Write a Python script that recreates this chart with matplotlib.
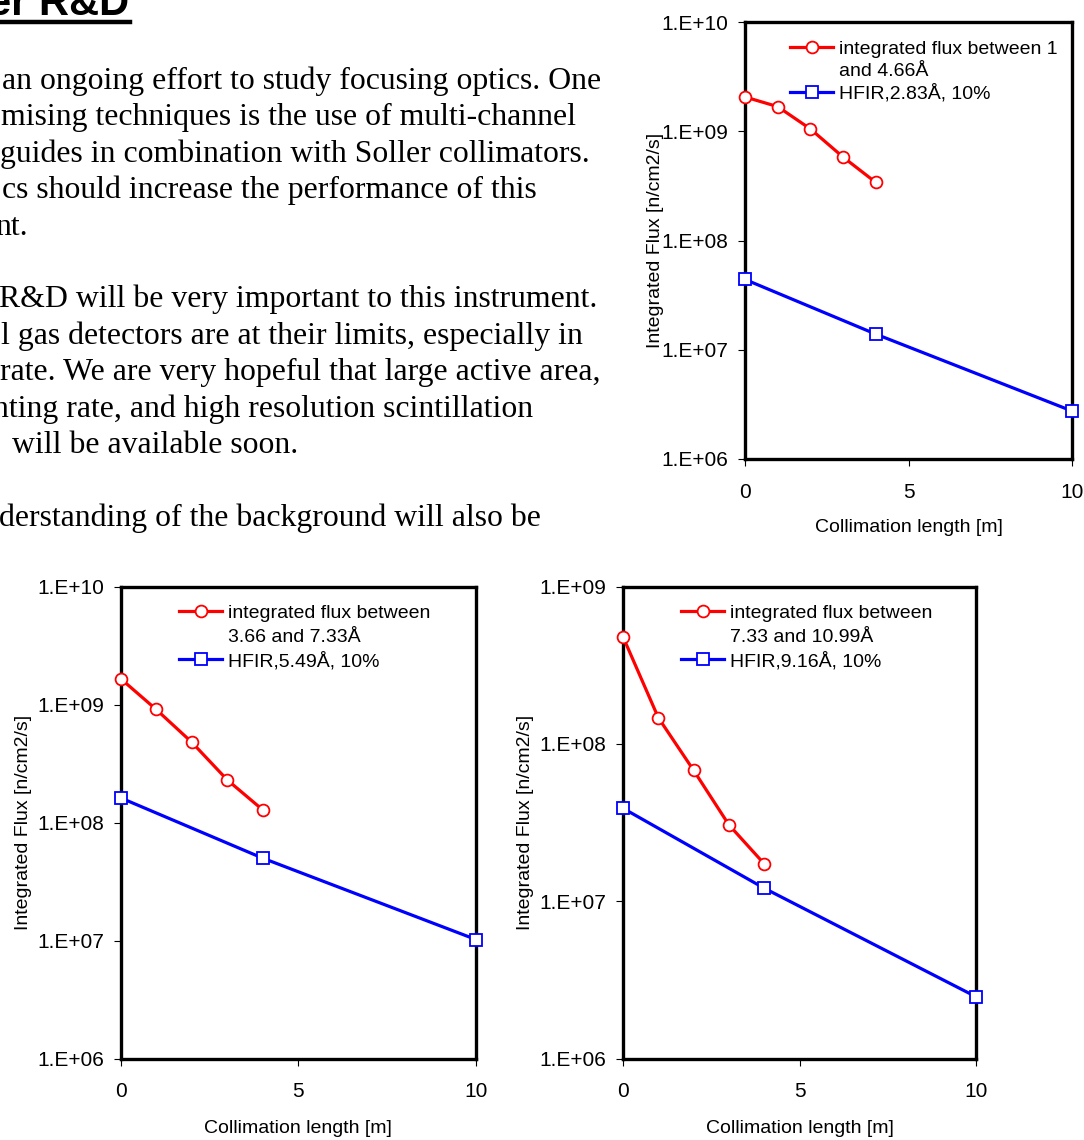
import math
import matplotlib
matplotlib.use('Agg')
import matplotlib.pyplot as plt
from matplotlib.lines import Line2D
from matplotlib.ticker import FixedLocator, FuncFormatter, NullLocator

W, H = 1084, 1140

# collimation length [m]
x_sim = [0, 1, 2, 3, 4]
x_hfir = [0, 4, 10]

# panel 1 (top right): 1 - 4.66 A
flux1_sim = [2.06e9, 1.68e9, 1.05e9, 5.8e8, 3.4e8]
flux1_hfir = [4.4e7, 1.39e7, 2.75e6]
labels1 = ["integrated flux between 1", "and 4.66Å", "HFIR,2.83Å, 10%"]

# panel 2 (bottom left): 3.66 - 7.33 A
flux2_sim = [1.66e9, 9.1e8, 4.8e8, 2.3e8, 1.28e8]
flux2_hfir = [1.62e8, 4.99e7, 1.02e7]
labels2 = ["integrated flux between", "3.66 and 7.33Å", "HFIR,5.49Å, 10%"]

# panel 3 (bottom right): 7.33 - 10.99 A
flux3_sim = [4.8e8, 1.47e8, 6.8e7, 3.06e7, 1.73e7]
flux3_hfir = [3.9e7, 1.21e7, 2.47e6]
labels3 = ["integrated flux between", "7.33 and 10.99Å", "HFIR,9.16Å, 10%"]

# page text left of the top chart (cut at the left edge of the page)
title = "er R&D"
body = [
    (2, "an ongoing effort to study focusing optics. One"),
    (1, "mising techniques is the use of multi-channel"),
    (0, "guides in combination with Soller collimators."),
    (2, "cs should increase the performance of this"),
    (-5, "nt."),
    (None, ""),
    (-1, "R&D will be very important to this instrument."),
    (1, "l gas detectors are at their limits, especially in"),
    (0, "rate. We are very hopeful that large active area,"),
    (-7, "nting rate, and high resolution scintillation"),
    (12, "will be available soon."),
    (None, ""),
    (-1, "derstanding of the background will also be"),
]

plt.rcParams['font.family'] = ['Liberation Sans', 'DejaVu Sans']

fig = plt.figure(figsize=(W / 100, H / 100), dpi=100)


def px(x, y):
    return x / W, 1 - y / H


# title + underline
fig.text(*px(129, 15), title, ha='right', va='baseline', fontsize=30,
         fontweight='bold', family=['Liberation Sans'])
fig.add_artist(Line2D([0, 130 / W], [1 - 21.7 / H] * 2, color='black',
                      lw=3.2, transform=fig.transFigure))

# body text
for i, (x0, line) in enumerate(body):
    if x0 is None:
        continue
    fig.text(*px(x0, 89 + i * 36.4), line, ha='left', va='baseline',
             fontsize=22.9, family=['Liberation Serif'])


def panel(rect, sim, hfir, labels, ymax, leg_anchor, lspace, ylab_x, xlab_y):
    ax = fig.add_axes(rect)
    ax.plot(x_sim, sim, color='#ff0000', lw=2.3, marker='o', ms=8.5,
            mfc='white', mec='#ff0000', mew=1.3, clip_on=False, zorder=3)
    ax.plot(x_hfir, hfir, color='#0000ff', lw=2.3, marker='s', ms=8,
            mfc='white', mec='#0000ff', mew=1.3, clip_on=False, zorder=3)
    ax.set_yscale('log')
    ax.set_ylim(1e6, ymax)
    ax.set_xlim(0, 10)
    ax.xaxis.set_major_locator(FixedLocator([0, 5, 10]))
    decades = [10.0 ** k for k in range(6, 11) if 10.0 ** k <= ymax]
    ax.yaxis.set_major_locator(FixedLocator(decades))
    ax.yaxis.set_minor_locator(NullLocator())
    ax.yaxis.set_major_formatter(FuncFormatter(
        lambda v, p: "1.E+%02d" % round(math.log10(v))))
    for s in ax.spines.values():
        s.set_linewidth(2.4)
        s.set_color('black')
    ax.tick_params(axis='both', direction='out', length=5, width=0.8,
                   labelsize=15, colors='black')
    ax.tick_params(axis='x', pad=12)
    ax.tick_params(axis='y', pad=7)
    ax.set_ylabel("Integrated Flux [n/cm2/s]", fontsize=14)
    ax.set_xlabel("Collimation length [m]", fontsize=14)
    ax.yaxis.set_label_coords(ylab_x, 0.5)
    ax.xaxis.set_label_coords(0.5, xlab_y)

    red = Line2D([], [], color='#ff0000', lw=2.3, marker='o', ms=8.5,
                 mfc='white', mec='#ff0000', mew=1.3)
    blank = Line2D([], [], color='none')
    blue = Line2D([], [], color='#0000ff', lw=2.3, marker='s', ms=8,
                  mfc='white', mec='#0000ff', mew=1.3)
    ax.legend([red, blank, blue], labels, loc='upper left',
              bbox_to_anchor=leg_anchor, frameon=False, fontsize=14,
              borderpad=0, borderaxespad=0, handlelength=2.2,
              handletextpad=0.3, labelspacing=lspace)
    return ax


panel([745 / W, 1 - 459 / H, 327 / W, 437 / H], flux1_sim, flux1_hfir,
      labels1, 1e10, (0.139, 0.958), 0.22, -0.248, -0.138)
panel([120.7 / W, 1 - 1058.5 / H, 355.3 / W, 471.8 / H], flux2_sim,
      flux2_hfir, labels2, 1e10, (0.165, 0.962), 0.3, -0.25, -0.13)
panel([623 / W, 1 - 1058.5 / H, 353 / W, 471.8 / H], flux3_sim,
      flux3_hfir, labels3, 1e9, (0.165, 0.962), 0.3, -0.252, -0.13)

fig.savefig('out.png', dpi=100)
